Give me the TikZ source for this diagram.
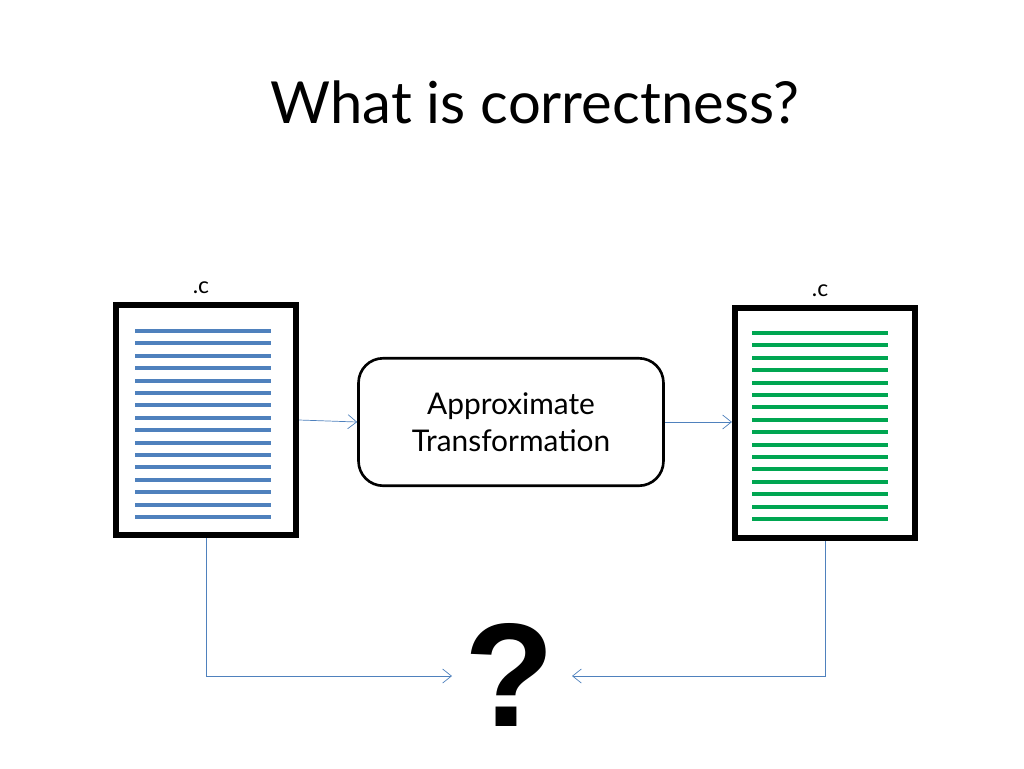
\documentclass[tikz,border=0pt]{standalone}
\usepackage{fontspec}
\setmainfont{Lato}
\newfontfamily\qfont{Liberation Sans}
\usetikzlibrary{arrows.meta}
\definecolor{lineblue}{RGB}{79,129,189}
\definecolor{linegreen}{RGB}{0,166,81}
\tikzset{
  doc/.style={draw, line width=3.5pt, minimum width=3.6cm, minimum height=4.6cm, inner sep=0pt},
  conn/.style={draw=lineblue, -{Straight Barb[length=5pt,width=8pt]}, thin},
}
\begin{document}
\begin{tikzpicture}[x=0.02cm, y=-0.02cm]
\useasboundingbox (0,0) rectangle (1024,768);

% Title
\node (title) at (535,102) {\fontsize{33}{40}\selectfont What is correctness?};

% Documents
\node[doc] (src) at (206,420) {};
\node[doc] (dst) at (825,423) {};
\node (srclabel) at (201,288) {\fontsize{13}{15}\selectfont .c};
\node (dstlabel) at (820,291) {\fontsize{13}{15}\selectfont .c};
\foreach \i in {0,...,15} {
  \draw[lineblue, line width=2.2pt] (135,331+12.4*\i) -- (271,331+12.4*\i);
  \draw[linegreen, line width=2.2pt] (752,333+12.4*\i) -- (888,333+12.4*\i);
}

% Transformation
\node[draw, line width=1.5pt, rounded corners=14pt, minimum width=6.1cm, minimum height=2.55cm, align=center, font=\fontsize{17}{24}\selectfont]
  (trans) at (511,422) {Approximate\\[-3pt]Transformation};

% Question
\node (ques) at (510,675) {\qfont\bfseries\fontsize{84}{84}\selectfont ?};

\draw[conn] (src.east |- 0,420) -- (trans.west |- 0,422);
\draw[conn] (trans.east |- 0,422) -- (dst.west |- 0,422);
\draw[conn] (src.south) |- (452,676) coordinate (qa);
\draw[conn] (dst.south) |- (572,676) coordinate (qb);
\end{tikzpicture}
\end{document}
